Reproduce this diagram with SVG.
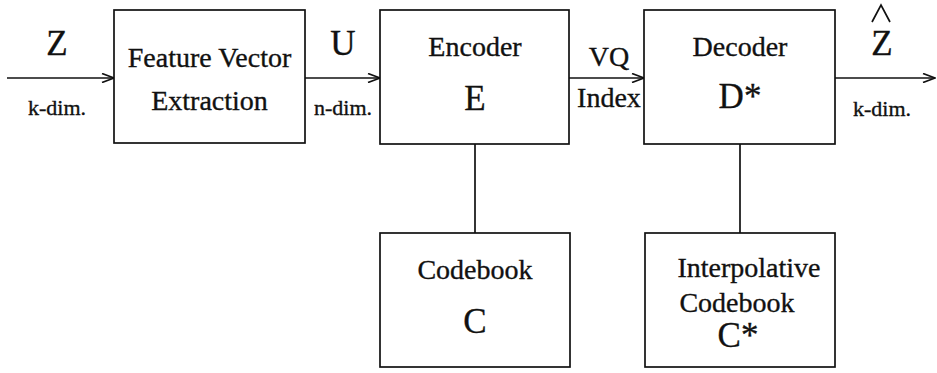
<svg xmlns="http://www.w3.org/2000/svg" width="937" height="373" viewBox="0 0 937 373">
  <style>
    .box { fill: #fff; stroke: #111; stroke-width: 1.7; }
    .wire { fill: none; stroke: #111; stroke-width: 1.7; }
    .t { font-family: "Liberation Serif", "Times New Roman", serif; fill: #111; stroke: #111; stroke-width: 0.35; text-anchor: middle; }
    .big { font-size: 35px; }
    .mid { font-size: 28px; }
    .small { font-size: 22px; }
  </style>
  <defs>
    <marker id="arrow" markerWidth="14" markerHeight="10" refX="13" refY="5" orient="auto" markerUnits="userSpaceOnUse">
      <path d="M1,0.5 L13,5 L1,9.5" fill="none" stroke="#111" stroke-width="1.7"/>
    </marker>
  </defs>

  <!-- signal flow and codebook links -->
  <g id="connectors">
    <line class="wire" x1="7" y1="78" x2="114" y2="78" marker-end="url(#arrow)"/>
    <line class="wire" x1="305" y1="78" x2="380" y2="78" marker-end="url(#arrow)"/>
    <line class="wire" x1="569" y1="78" x2="644" y2="78" marker-end="url(#arrow)"/>
    <line class="wire" x1="835" y1="78" x2="935" y2="78" marker-end="url(#arrow)"/>
    <line class="wire" x1="475" y1="144" x2="475" y2="233"/>
    <line class="wire" x1="740" y1="144" x2="740" y2="233"/>
  </g>

  <!-- signal labels -->
  <g id="labels">
    <text class="t big" x="57" y="55">Z</text>
    <text class="t small" x="57" y="115">k-dim.</text>
    <text class="t big" x="343" y="55">U</text>
    <text class="t small" x="343" y="115">n-dim.</text>
    <text class="t mid" x="609" y="66" font-size="26">VQ</text>
    <text class="t mid" x="609" y="107" font-size="25">Index</text>
    <text class="t big" x="882" y="55">Z</text>
    <path class="wire" d="M872,22 L881,5 L890,22"/>
    <text class="t small" x="882" y="116">k-dim.</text>
  </g>

  <g id="feature-extraction">
    <rect class="box" x="114" y="10" width="191" height="133"/>
    <text class="t mid" x="209.5" y="67" font-size="29">Feature Vector</text>
    <text class="t mid" x="209.5" y="110">Extraction</text>
  </g>

  <g id="encoder">
    <rect class="box" x="380" y="10" width="189" height="134"/>
    <text class="t mid" x="475" y="56">Encoder</text>
    <text class="t big" x="475" y="110" font-size="33">E</text>
  </g>

  <g id="decoder">
    <rect class="box" x="644" y="10" width="191" height="134"/>
    <text class="t mid" x="740" y="56">Decoder</text>
    <text class="t big" x="740" y="108" font-size="33">D*</text>
  </g>

  <g id="codebook">
    <rect class="box" x="380" y="233" width="190" height="134"/>
    <text class="t mid" x="475" y="279">Codebook</text>
    <text class="t big" x="475" y="333" font-size="33">C</text>
  </g>

  <g id="interp-codebook">
    <rect class="box" x="645" y="233" width="190" height="134"/>
    <text class="t mid" x="749" y="277" font-size="30">Interpolative</text>
    <text class="t mid" x="737" y="312" font-size="29">Codebook</text>
    <text class="t big" x="738" y="347" font-size="33">C*</text>
  </g>
</svg>
